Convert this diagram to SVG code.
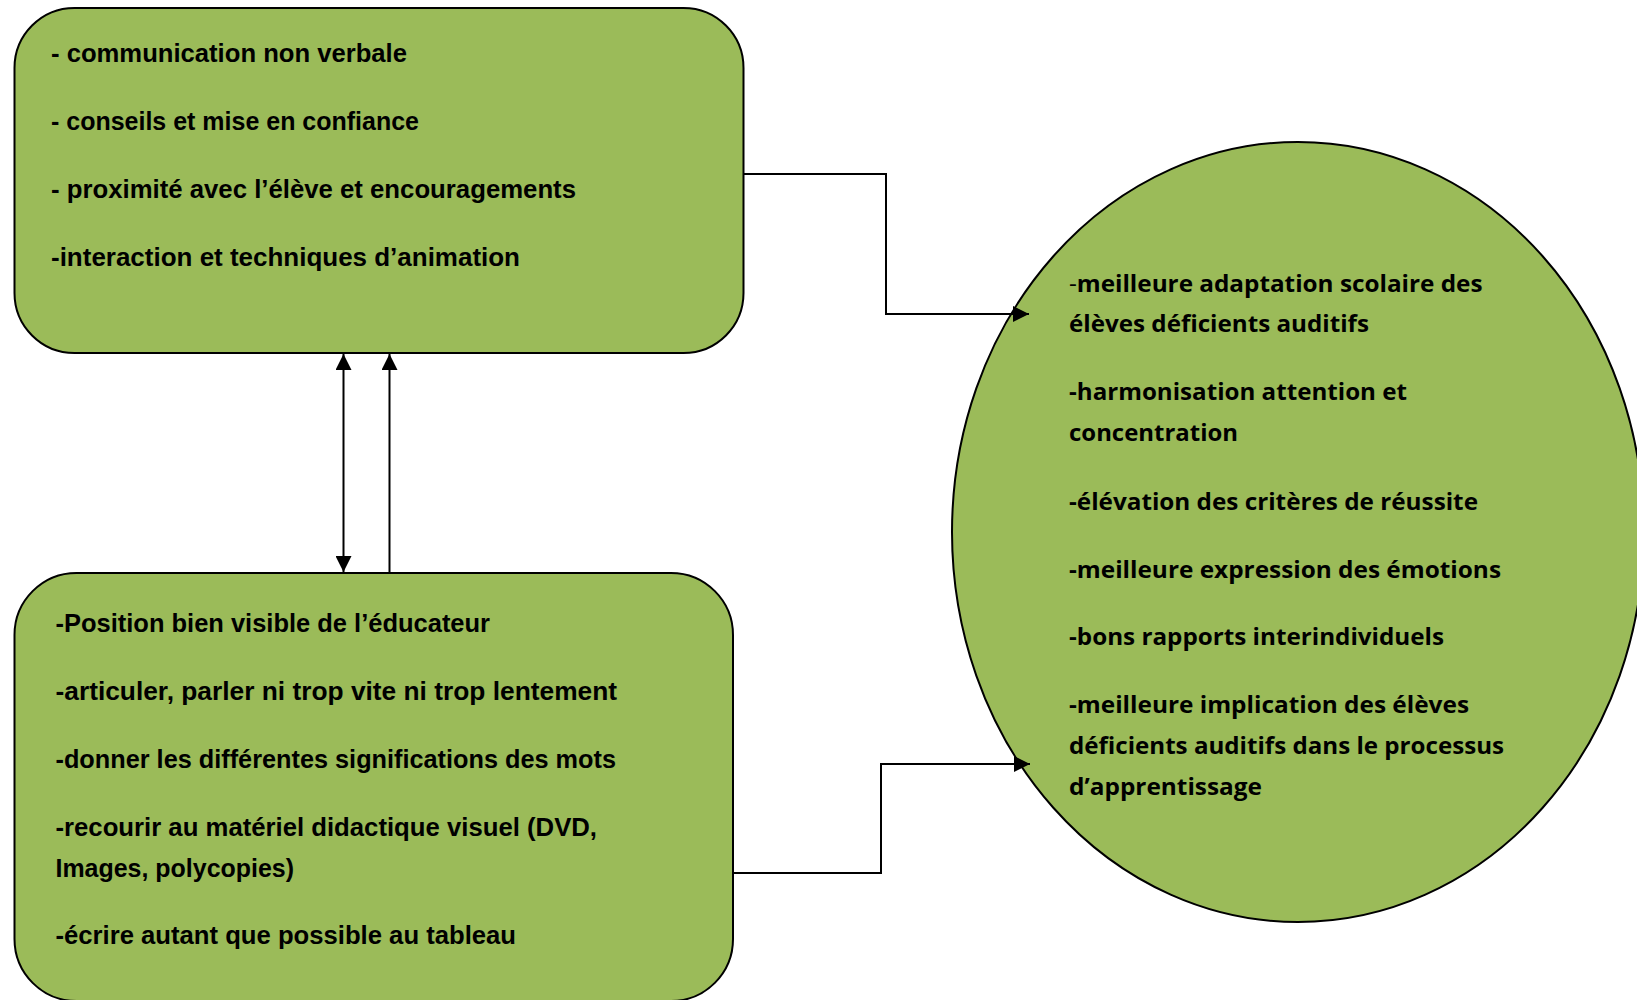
<svg xmlns="http://www.w3.org/2000/svg" width="1637" height="1000" viewBox="0 0 1637 1000">
<style>
.node{fill:#9BBB59;stroke:#000;stroke-width:2}
.bt{font-family:"Liberation Sans",Arial,sans-serif;font-weight:bold;font-size:25px;fill:#000}
.ct{font-family:"Open Sans","Liberation Sans",sans-serif;font-weight:bold;font-size:24px;fill:#000}
.conn{fill:none;stroke:#000;stroke-width:2}
</style>
<defs>
<marker id="ah" viewBox="0 0 16 16" markerWidth="16" markerHeight="16" refX="16" refY="8" orient="auto-start-reverse" markerUnits="userSpaceOnUse">
<path d="M0,0 L16,8 L0,16 z" fill="#000"/>
</marker>
</defs>
<rect width="1637" height="1000" fill="#fff"/>
<g id="node-top">
<rect class="node" x="14.5" y="8" width="729" height="345" rx="60" ry="60"/>
<text class="bt" x="51" y="62" textLength="356" lengthAdjust="spacingAndGlyphs">- communication non verbale</text>
<text class="bt" x="51" y="130" textLength="368" lengthAdjust="spacingAndGlyphs">- conseils et mise en confiance</text>
<text class="bt" x="51" y="198" textLength="525" lengthAdjust="spacingAndGlyphs">- proximité avec l’élève et encouragements</text>
<text class="bt" x="51" y="266" textLength="469" lengthAdjust="spacingAndGlyphs">-interaction et techniques d’animation</text>
</g>
<g id="node-bottom">
<rect class="node" x="14.5" y="573" width="718.5" height="428" rx="62" ry="62"/>
<text class="bt" x="55.5" y="632" textLength="434.5" lengthAdjust="spacingAndGlyphs">-Position bien visible de l’éducateur</text>
<text class="bt" x="55.5" y="700" textLength="561.5" lengthAdjust="spacingAndGlyphs">-articuler, parler ni trop vite ni trop lentement</text>
<text class="bt" x="55.5" y="768" textLength="560.5" lengthAdjust="spacingAndGlyphs">-donner les différentes significations des mots</text>
<text class="bt" x="55.5" y="836" textLength="541.5" lengthAdjust="spacingAndGlyphs">-recourir au matériel didactique visuel (DVD,</text>
<text class="bt" x="55.5" y="877" textLength="238.5" lengthAdjust="spacingAndGlyphs">Images, polycopies)</text>
<text class="bt" x="55.5" y="944" textLength="460.5" lengthAdjust="spacingAndGlyphs">-écrire autant que possible au tableau</text>
</g>
<g id="node-circle">
<ellipse class="node" cx="1298" cy="532" rx="346" ry="390" stroke-width="1.5"/>
<text class="ct" x="1069" y="292" textLength="413.5" lengthAdjust="spacingAndGlyphs"><tspan font-weight="normal">-</tspan>meilleure adaptation scolaire des</text>
<text class="ct" x="1069" y="332" textLength="300" lengthAdjust="spacingAndGlyphs">élèves déficients auditifs</text>
<text class="ct" x="1069" y="400" textLength="338" lengthAdjust="spacingAndGlyphs">-harmonisation attention et</text>
<text class="ct" x="1069" y="441" textLength="169" lengthAdjust="spacingAndGlyphs">concentration</text>
<text class="ct" x="1069" y="510" textLength="409" lengthAdjust="spacingAndGlyphs">-élévation des critères de réussite</text>
<text class="ct" x="1069" y="578" textLength="432" lengthAdjust="spacingAndGlyphs">-meilleure expression des émotions</text>
<text class="ct" x="1069" y="645" textLength="375" lengthAdjust="spacingAndGlyphs">-bons rapports interindividuels</text>
<text class="ct" x="1069" y="713" textLength="400" lengthAdjust="spacingAndGlyphs">-meilleure implication des élèves</text>
<text class="ct" x="1069" y="754" textLength="435" lengthAdjust="spacingAndGlyphs">déficients auditifs dans le processus</text>
<text class="ct" x="1069" y="795" textLength="193" lengthAdjust="spacingAndGlyphs">d’apprentissage</text>
</g>
<g id="connectors">
<polyline class="conn" points="743.5,174 886,174 886,314 1029,314" marker-end="url(#ah)"/>
<polyline class="conn" points="733,873 881,873 881,764 1030,764" marker-end="url(#ah)"/>
<line class="conn" x1="343.5" y1="354" x2="343.5" y2="572" marker-start="url(#ah)" marker-end="url(#ah)"/>
<line class="conn" x1="389.5" y1="573" x2="389.5" y2="354" marker-end="url(#ah)"/>
</g>
</svg>
